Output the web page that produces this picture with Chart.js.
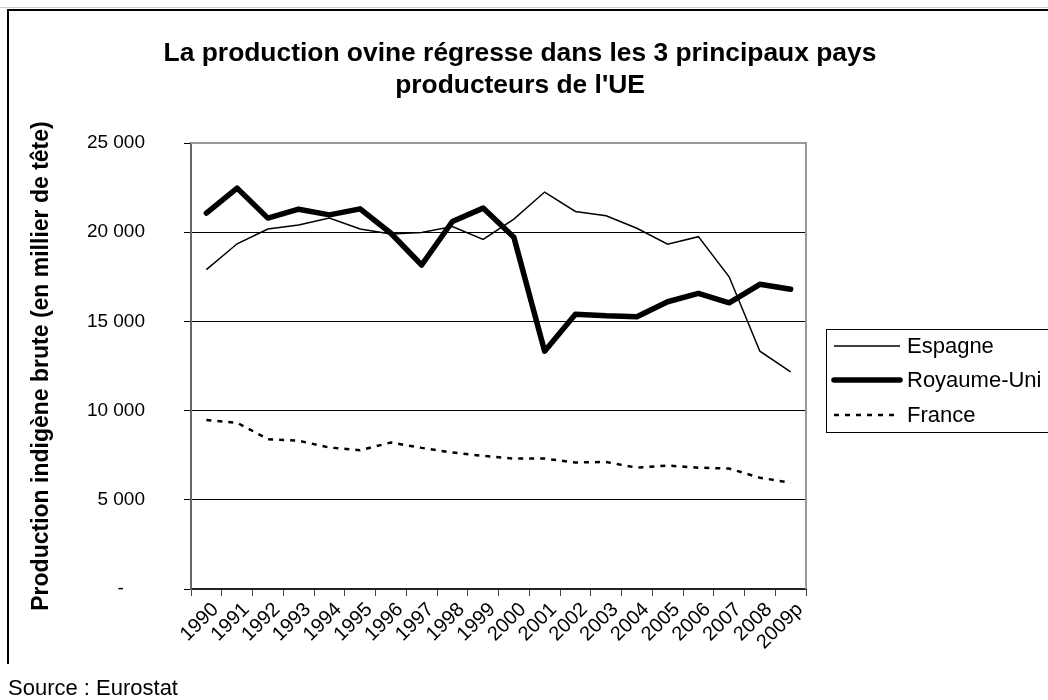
<!DOCTYPE html>
<html>
<head>
<meta charset="utf-8">
<script src="https://cdn.jsdelivr.net/npm/chart.js@4.4.1/dist/chart.umd.min.js"></script>
<style>
  body { margin: 0; background: #fff; font-family: "Liberation Sans", Arial, sans-serif; }
  #wrap { position: relative; width: 1048px; height: 700px; overflow: hidden; }
  #myChart { position: absolute; left: 0; top: 0; }
  #frame { position: absolute; left: 7px; top: 9px; width: 1100px; height: 653px;
           border-left: 2px solid #000; border-top: 2px solid #000; pointer-events: none; }
  #topline { position: absolute; left: 0; top: 7px; width: 1048px; height: 1px; background: #ccc; }
  #title { position: absolute; left: 0; top: 36px; width: 1040px; text-align: center;
           font-weight: bold; font-size: 26.4px; line-height: 32px; color: #000; }
  #source { position: absolute; left: 8px; top: 675px; font-size: 22px; line-height: 26px; color: #000; }
</style>
</head>
<body>
<div id="wrap">
  <canvas id="myChart" width="1048" height="700"></canvas>
  <div id="topline"></div>
  <div id="frame"></div>
  <div id="title">La production ovine régresse dans les 3 principaux pays<br>producteurs de l'UE</div>
  <div id="source">Source : Eurostat</div>
</div>
<script>
const years = ['1990', '1991', '1992', '1993', '1994', '1995', '1996', '1997', '1998', '1999',
               '2000', '2001', '2002', '2003', '2004', '2005', '2006', '2007', '2008', '2009p'];

const espagne = [17900, 19350, 20180, 20400, 20800, 20180, 19900, 19980, 20320, 19600,
                 20730, 22250, 21160, 20920, 20220, 19330, 19750, 17500, 13330, 12170];

const royaumeUni = [21070, 22470, 20790, 21290, 20970, 21310, 19940, 18160, 20600, 21350,
                    19720, 13330, 15400, 15310, 15260, 16100, 16570, 16040, 17080, 16800];

const france = [9470, 9320, 8400, 8310, 7930, 7780, 8210, 7910, 7650, 7460,
                7310, 7310, 7090, 7120, 6800, 6920, 6800, 6750, 6240, 5960];

const yTicks = [0, 5000, 10000, 15000, 20000, 25000];

const FONT = '"Liberation Sans", Arial, sans-serif';

function formatThousands(v) {
    if (v === 0) return '-    '; // Excel style zero
    return String(v).replace(/\B(?=(\d{3})+(?!\d))/g, ' ');
}

// plot frame + legend box drawn after the chart
const extras = {
    id: 'extras',
    afterDraw(chart) {
        const ctx = chart.ctx;
        const a = chart.chartArea;
        ctx.save();
        // grey top / right border of the plot area
        ctx.strokeStyle = '#999';
        ctx.lineWidth = 2;
        ctx.beginPath();
        ctx.moveTo(a.left, a.top);
        ctx.lineTo(a.right, a.top);
        ctx.lineTo(a.right, a.bottom);
        ctx.stroke();

        // legend
        ctx.strokeStyle = '#000';
        ctx.lineWidth = 1;
        ctx.strokeRect(826.5, 329.5, 260, 103);
        const rows = [346, 380, 415];
        ctx.font = '22px ' + FONT;
        ctx.fillStyle = '#000';
        ctx.textBaseline = 'middle';
        chart.data.datasets.forEach((ds, i) => {
            ctx.save();
            ctx.strokeStyle = ds.borderColor;
            ctx.lineWidth = ds.borderWidth;
            ctx.lineCap = ds.borderCapStyle || 'butt';
            ctx.setLineDash(ds.borderDash || []);
            ctx.beginPath();
            ctx.moveTo(834, rows[i]);
            ctx.lineTo(900, rows[i]);
            ctx.stroke();
            ctx.restore();
            ctx.fillText(ds.label, 907, rows[i] + 1);
        });
        ctx.restore();
    }
};

const ctx = document.getElementById('myChart').getContext('2d');
window.myChartInstance = new Chart(ctx, {
    type: 'line',
    data: {
        labels: years,
        datasets: [
            {
                label: 'Espagne',
                data: espagne,
                borderColor: '#000',
                borderWidth: 1.5,
                pointRadius: 0,
                tension: 0
            },
            {
                label: 'Royaume-Uni',
                data: royaumeUni,
                borderColor: '#000',
                borderWidth: 5.5,
                borderJoinStyle: 'round',
                borderCapStyle: 'round',
                pointRadius: 0,
                tension: 0
            },
            {
                label: 'France',
                data: france,
                borderColor: '#000',
                borderWidth: 2.5,
                borderDash: [5, 6],
                pointRadius: 0,
                tension: 0
            }
        ]
    },
    options: {
        responsive: false,
        animation: false,
        devicePixelRatio: 1,
        layout: { padding: { left: 0, right: 242, top: 143, bottom: 0 } },
        plugins: {
            legend: { display: false },
            title: { display: false },
            tooltip: { enabled: false }
        },
        scales: {
            x: {
                type: 'category',
                offset: true,
                grid: {
                    offset: true,
                    drawOnChartArea: false,
                    drawTicks: true,
                    tickLength: 7,
                    color: '#444'
                },
                border: { color: '#222', width: 2 },
                ticks: {
                    autoSkip: false,
                    maxRotation: 45,
                    minRotation: 45,
                    padding: 2,
                    labelOffset: 9,
                    color: '#000',
                    font: { family: FONT, size: 20 }
                },
                afterFit(scale) { scale.height = 111; }
            },
            y: {
                min: 0,
                max: 25000,
                afterBuildTicks(scale) { scale.ticks = yTicks.map(v => ({ value: v })); },
                grid: { color: '#000', lineWidth: 1, tickLength: 7 },
                border: { color: '#666', width: 2 },
                ticks: {
                    padding: 39,
                    color: '#000',
                    font: { family: FONT, size: 19 },
                    callback: (v) => formatThousands(v)
                },
                title: {
                    display: true,
                    text: 'Production indigène brute (en millier de tête)',
                    color: '#000',
                    font: { family: FONT, size: 23, weight: 'bold', lineHeight: 1.2 },
                    padding: { top: 28, bottom: 0 }
                },
                afterFit(scale) { scale.width = 191; }
            }
        }
    },
    plugins: [extras]
});
</script>
</body>
</html>
